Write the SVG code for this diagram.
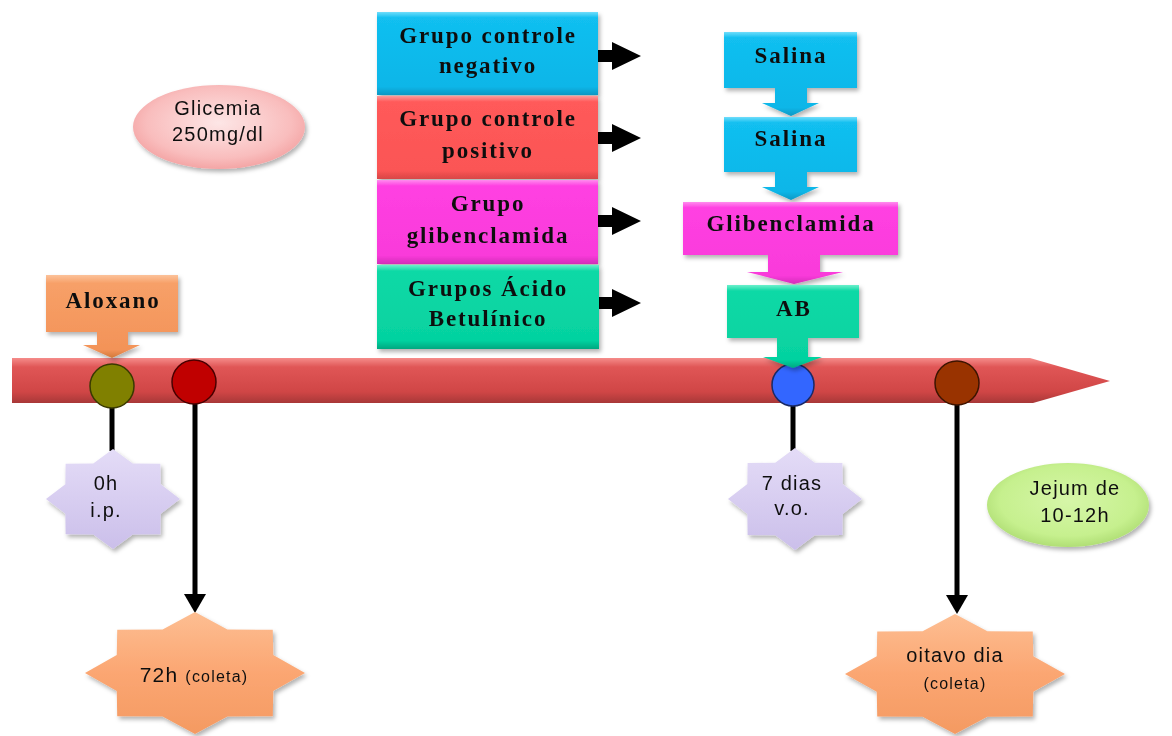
<svg xmlns="http://www.w3.org/2000/svg" xmlns:xlink="http://www.w3.org/1999/xlink" width="1172" height="736" viewBox="0 0 1172 736">
  <style>
    .bt { font-family: "Liberation Serif", "Times New Roman", serif; font-weight: bold; font-size: 23px; letter-spacing: 1.9px; text-anchor: middle; fill: #111; }
    .st { font-family: "Liberation Sans", Arial, sans-serif; font-size: 20px; letter-spacing: 1.2px; text-anchor: middle; fill: #111; }
    .sm { font-size: 16px; letter-spacing: 1.2px; }
    .link { stroke: #000; stroke-width: 5; fill: none; }
    .fat { fill: #000; }
    .dot { stroke-width: 1.5; }
  </style>
  <defs>
    <filter id="shadow" x="-10%" y="-10%" width="130%" height="140%">
      <feDropShadow dx="2" dy="3" stdDeviation="2" flood-color="#000" flood-opacity="0.3"/>
    </filter>
    <linearGradient id="gBar" x1="0" y1="0" x2="0" y2="1">
      <stop offset="0" stop-color="#F58C8A"/>
      <stop offset="0.2" stop-color="#E05656"/>
      <stop offset="0.75" stop-color="#D04646"/>
      <stop offset="1" stop-color="#A83838"/>
    </linearGradient>
    <linearGradient id="gBlue" x1="0" y1="0" x2="0" y2="1">
      <stop offset="0" stop-color="#6FDDFB"/>
      <stop offset="0.07" stop-color="#12BFF0"/>
      <stop offset="0.9" stop-color="#08B6E8"/>
      <stop offset="1" stop-color="#0798C4"/>
    </linearGradient>
    <linearGradient id="gRed" x1="0" y1="0" x2="0" y2="1">
      <stop offset="0" stop-color="#FF9A9A"/>
      <stop offset="0.07" stop-color="#FF5A5A"/>
      <stop offset="0.9" stop-color="#FB5555"/>
      <stop offset="1" stop-color="#D84646"/>
    </linearGradient>
    <linearGradient id="gMag" x1="0" y1="0" x2="0" y2="1">
      <stop offset="0" stop-color="#FF8CEE"/>
      <stop offset="0.07" stop-color="#FF40E2"/>
      <stop offset="0.9" stop-color="#F93ADA"/>
      <stop offset="1" stop-color="#D22EB8"/>
    </linearGradient>
    <linearGradient id="gTeal" x1="0" y1="0" x2="0" y2="1">
      <stop offset="0" stop-color="#6CF0CC"/>
      <stop offset="0.07" stop-color="#0FD9A6"/>
      <stop offset="0.9" stop-color="#05D2A0"/>
      <stop offset="1" stop-color="#04A880"/>
    </linearGradient>
    <linearGradient id="gOrange" x1="0" y1="0" x2="0" y2="1">
      <stop offset="0" stop-color="#FCC29A"/>
      <stop offset="0.1" stop-color="#F7A068"/>
      <stop offset="0.9" stop-color="#F39358"/>
      <stop offset="1" stop-color="#D27838"/>
    </linearGradient>
    <linearGradient id="gLav" x1="0" y1="0" x2="0" y2="1">
      <stop offset="0" stop-color="#E4DCF7"/>
      <stop offset="1" stop-color="#CBBFEA"/>
    </linearGradient>
    <linearGradient id="gPeach" x1="0" y1="0" x2="0" y2="1">
      <stop offset="0" stop-color="#FDBE92"/>
      <stop offset="0.5" stop-color="#FBA672"/>
      <stop offset="1" stop-color="#F49A62"/>
    </linearGradient>
    <radialGradient id="gPink" cx="0.5" cy="0.45" r="0.6">
      <stop offset="0" stop-color="#FDE6E6"/>
      <stop offset="0.7" stop-color="#F9BDBD"/>
      <stop offset="1" stop-color="#F29C9C"/>
    </radialGradient>
    <radialGradient id="gGreen" cx="0.5" cy="0.45" r="0.6">
      <stop offset="0" stop-color="#D6F6A8"/>
      <stop offset="0.7" stop-color="#C6F08E"/>
      <stop offset="1" stop-color="#A8D86C"/>
    </radialGradient>
    <!-- eight-pointed star, unit radius; placed with translate + scale -->
    <path id="star8" d="M0,-1 L.2947,-.7114 L.7071,-.7071 L.7114,-.2947 L1,0 L.7114,.2947 L.7071,.7071 L.2947,.7114 L0,1 L-.2947,.7114 L-.7071,.7071 L-.7114,.2947 L-1,0 L-.7114,-.2947 L-.7071,-.7071 L-.2947,-.7114 Z"/>
    <!-- thick right-pointing arrow, tail at origin -->
    <path id="fatArrow" d="M0,-6 H14 V-14 L43,0 L14,14 V6 H0 Z"/>
    <marker id="head" viewBox="0 -11 19 22" refX="6" refY="0" markerWidth="19" markerHeight="22" markerUnits="userSpaceOnUse" orient="auto">
      <path d="M0,-11 L19,0 L0,11 Z" fill="#000"/>
    </marker>
  </defs>

  <rect width="1172" height="736" fill="#fff"/>

  <!-- timeline -->
  <g id="timeline">
    <path d="M12,358 H1030 L1110,381 L1033,403 H12 Z" fill="url(#gBar)"/>
  </g>

  <!-- connectors -->
  <g id="connectors">
    <line class="link" x1="112" y1="400" x2="112" y2="451"/>
    <line class="link" x1="195" y1="400" x2="195" y2="600" marker-end="url(#head)"/>
    <line class="link" x1="793" y1="400" x2="793" y2="451"/>
    <line class="link" x1="957" y1="400" x2="957" y2="601" marker-end="url(#head)"/>
    <use href="#fatArrow" class="fat" transform="translate(598,56)"/>
    <use href="#fatArrow" class="fat" transform="translate(598,138)"/>
    <use href="#fatArrow" class="fat" transform="translate(598,221)"/>
    <use href="#fatArrow" class="fat" transform="translate(598,303)"/>
  </g>

  <!-- time points -->
  <g id="point-0h"><circle class="dot" cx="112" cy="386" r="22" fill="#808000" stroke="#3a3a00"/></g>
  <g id="point-72h"><circle class="dot" cx="194" cy="382" r="22" fill="#C00000" stroke="#4a0000"/></g>
  <g id="point-7d"><circle class="dot" cx="793" cy="385" r="21" fill="#3366FF" stroke="#1a2a66"/></g>
  <g id="point-8d"><circle class="dot" cx="957" cy="383" r="22" fill="#993300" stroke="#3d1400"/></g>

  <!-- Aloxano callout -->
  <g id="aloxano" filter="url(#shadow)">
    <path d="M46,275 H178 V332 H128 V345 H140 L112,358 L83,345 H97 V332 H46 Z" fill="url(#gOrange)"/>
    <text class="bt" x="113" y="308">Aloxano</text>
  </g>

  <!-- group boxes -->
  <g id="grupo-negativo" filter="url(#shadow)">
    <rect x="377" y="12" width="221" height="83" fill="url(#gBlue)"/>
    <text class="bt" x="488" y="43">Grupo controle</text>
    <text class="bt" x="488" y="73">negativo</text>
  </g>
  <g id="grupo-positivo" filter="url(#shadow)">
    <rect x="377" y="96" width="221" height="83" fill="url(#gRed)"/>
    <text class="bt" x="488" y="126">Grupo controle</text>
    <text class="bt" x="488" y="158">positivo</text>
  </g>
  <g id="grupo-glibenclamida" filter="url(#shadow)">
    <rect x="377" y="180" width="221" height="84" fill="url(#gMag)"/>
    <text class="bt" x="488" y="211">Grupo</text>
    <text class="bt" x="488" y="243">glibenclamida</text>
  </g>
  <g id="grupo-ab" filter="url(#shadow)">
    <rect x="377" y="265" width="222" height="84" fill="url(#gTeal)"/>
    <text class="bt" x="488" y="296">Grupos Ácido</text>
    <text class="bt" x="488" y="326">Betulínico</text>
  </g>

  <!-- treatment sequence -->
  <g id="salina-1" filter="url(#shadow)">
    <path d="M724,32 H857 V88 H807 V103 H819 L791,116 L762,103 H775 V88 H724 Z" fill="url(#gBlue)"/>
    <text class="bt" x="791" y="63">Salina</text>
  </g>
  <g id="salina-2" filter="url(#shadow)">
    <path d="M724,117 H857 V172 H807 V187 H819 L791,200 L762,187 H775 V172 H724 Z" fill="url(#gBlue)"/>
    <text class="bt" x="791" y="146">Salina</text>
  </g>
  <g id="glibenclamida" filter="url(#shadow)">
    <path d="M683,202 H898 V255 H820 V272 H843 L794,284 L747,272 H768 V255 H683 Z" fill="url(#gMag)"/>
    <text class="bt" x="791" y="231">Glibenclamida</text>
  </g>
  <g id="ab" filter="url(#shadow)">
    <path d="M727,285 H859 V338 H808 V357 H822 L793,368 L763,357 H777 V338 H727 Z" fill="url(#gTeal)"/>
    <text class="bt" x="794" y="316">AB</text>
  </g>

  <!-- notes -->
  <g id="glicemia" filter="url(#shadow)">
    <ellipse cx="219" cy="127" rx="86" ry="42" fill="url(#gPink)"/>
    <text class="st" x="218" y="115">Glicemia</text>
    <text class="st" x="218" y="141">250mg/dl</text>
  </g>
  <g id="jejum" filter="url(#shadow)">
    <ellipse cx="1068" cy="505" rx="81" ry="42" fill="url(#gGreen)"/>
    <text class="st" x="1075" y="495">Jejum de</text>
    <text class="st" x="1075" y="522">10-12h</text>
  </g>

  <!-- time labels -->
  <g id="label-0h" filter="url(#shadow)">
    <use href="#star8" fill="url(#gLav)" transform="translate(113,499) scale(67,50)"/>
    <text class="st" x="106" y="490">0h</text>
    <text class="st" x="106" y="517">i.p.</text>
  </g>
  <g id="label-7d" filter="url(#shadow)">
    <use href="#star8" fill="url(#gLav)" transform="translate(795,499) scale(67,51)"/>
    <text class="st" x="792" y="490">7 dias</text>
    <text class="st" x="792" y="515">v.o.</text>
  </g>
  <g id="label-72h" filter="url(#shadow)">
    <use href="#star8" fill="url(#gPeach)" transform="translate(195,673) scale(110,61)"/>
    <text class="st" x="194" y="682"><tspan style="font-size:21px">72h </tspan><tspan class="sm">(coleta)</tspan></text>
  </g>
  <g id="label-8d" filter="url(#shadow)">
    <use href="#star8" fill="url(#gPeach)" transform="translate(955,674) scale(110,60)"/>
    <text class="st" x="955" y="662">oitavo dia</text>
    <text class="st sm" x="955" y="689">(coleta)</text>
  </g>
</svg>
